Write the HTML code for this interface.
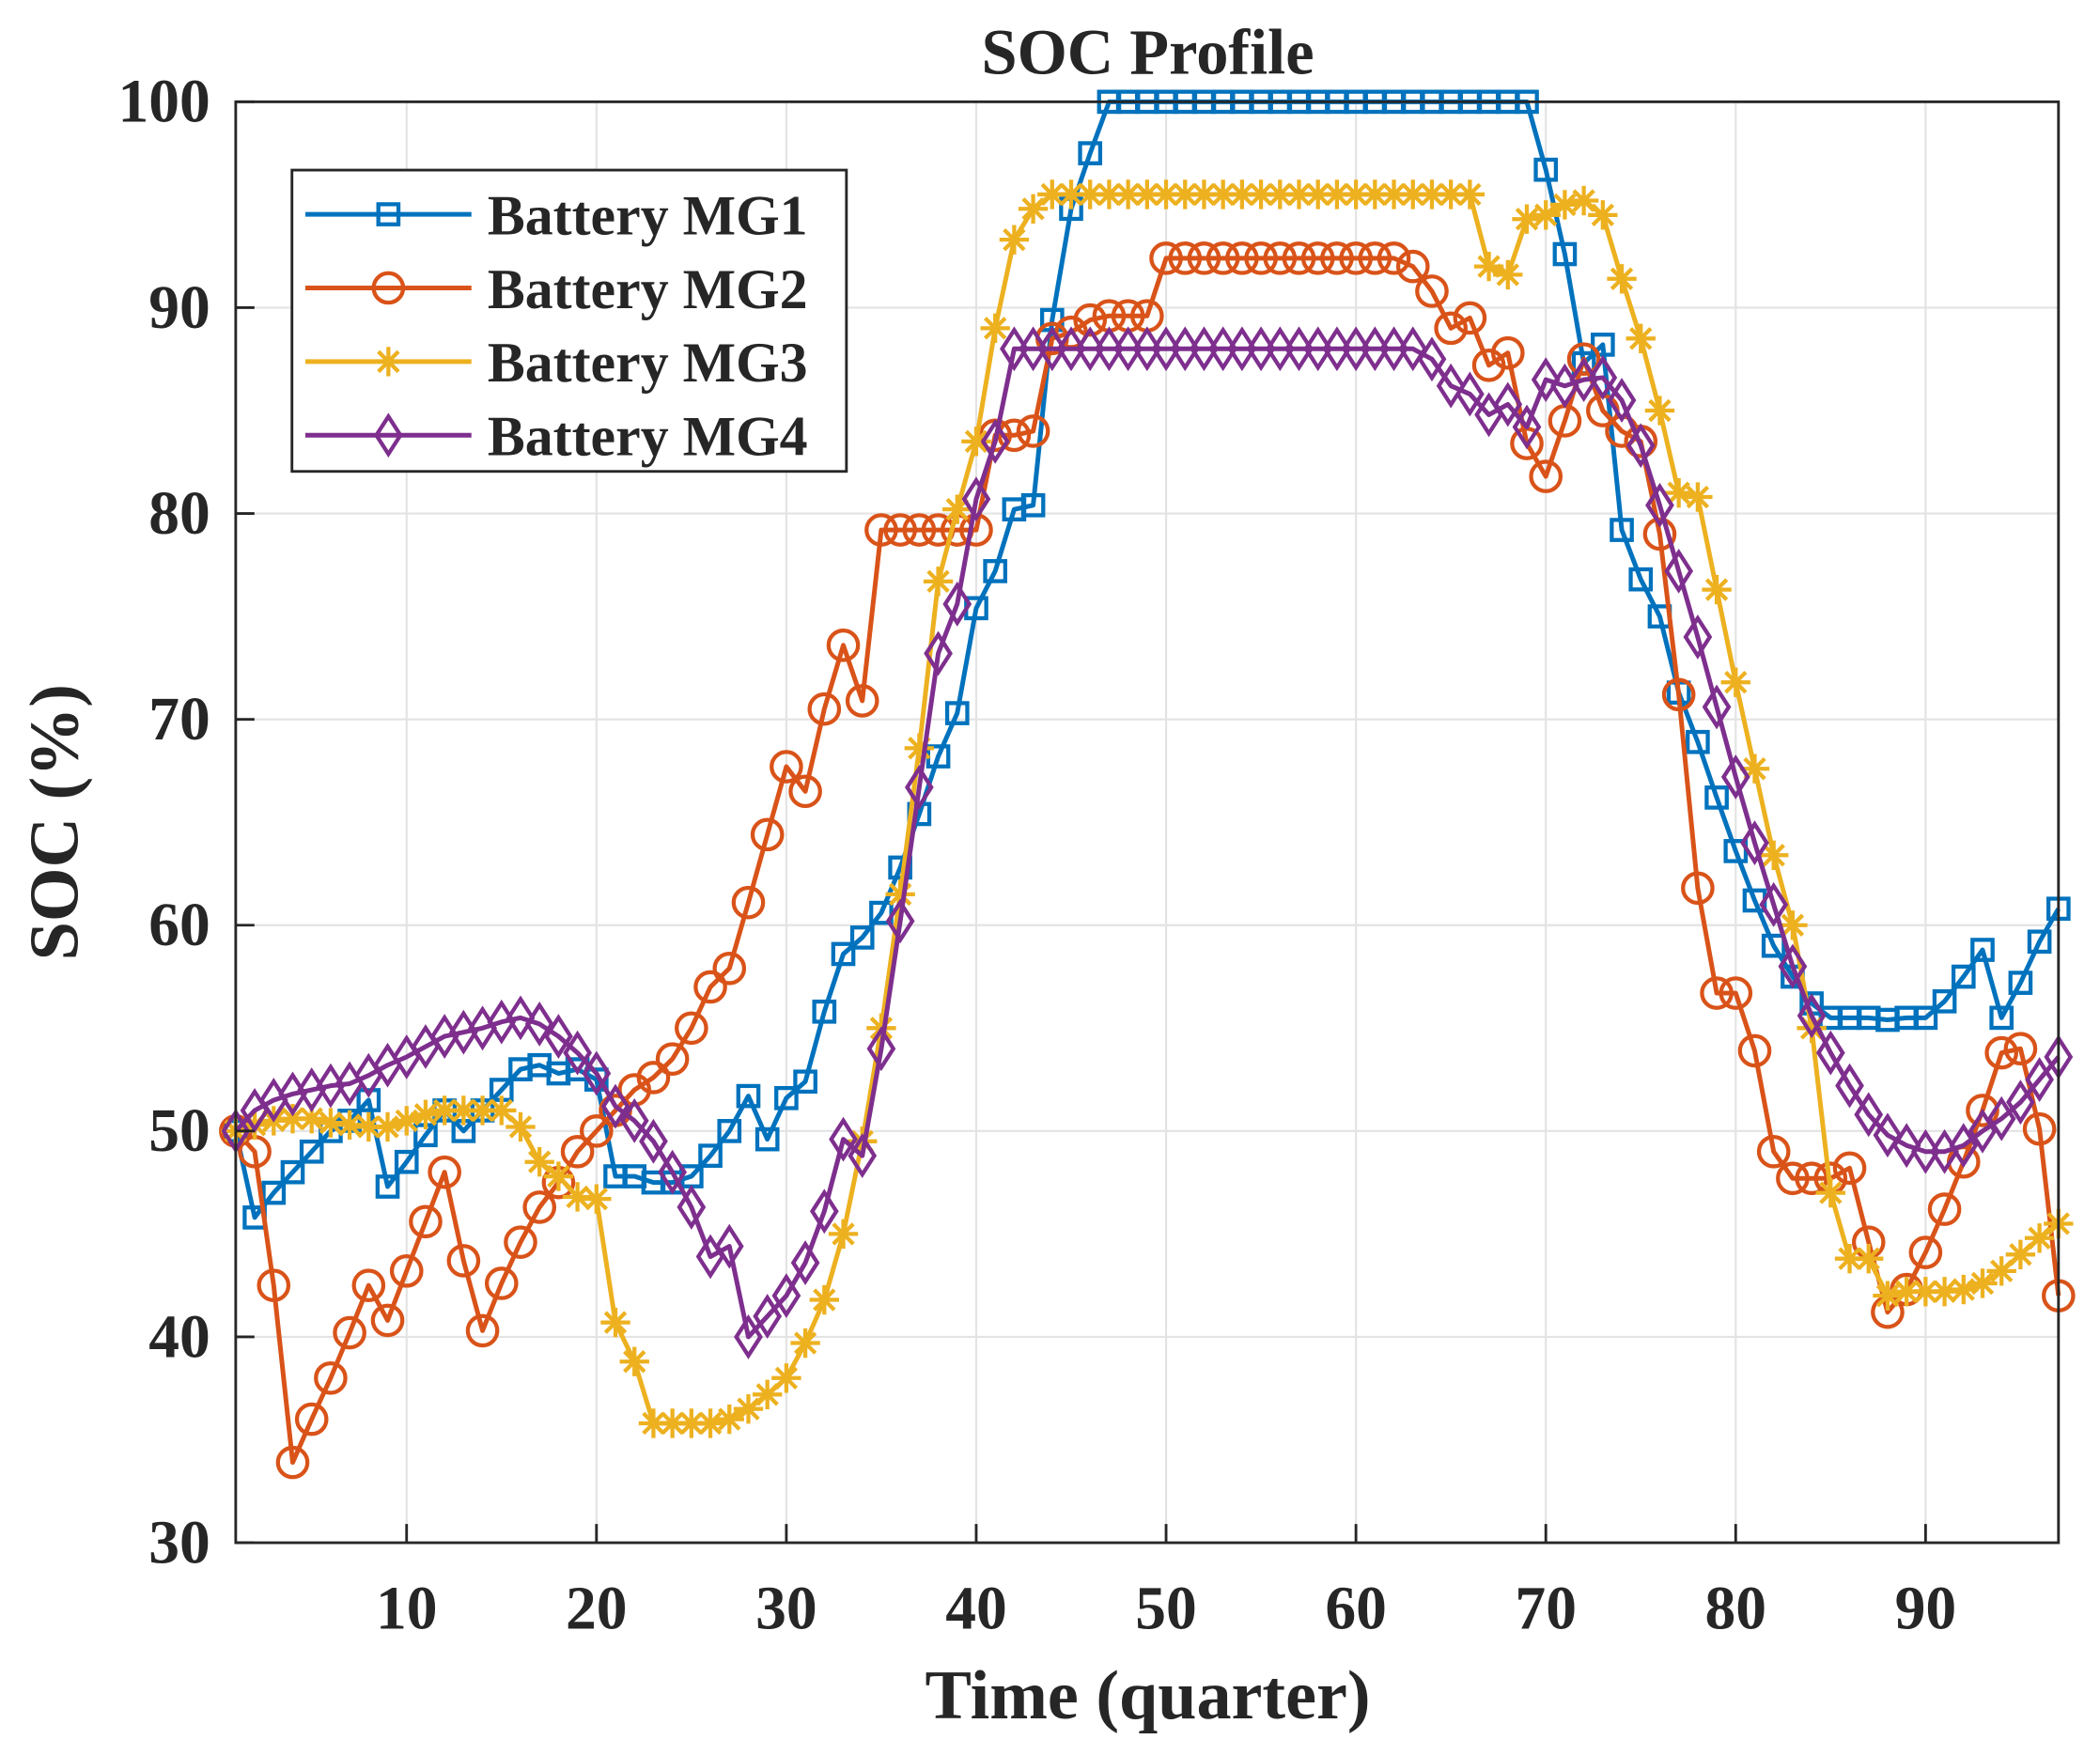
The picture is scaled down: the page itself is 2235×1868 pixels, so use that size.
<!DOCTYPE html>
<html><head><meta charset="utf-8"><style>
html,body{margin:0;padding:0;background:#fff;}
svg{display:block;}
text{font-family:"Liberation Serif",serif;font-weight:bold;fill:#262626;}
</style></head><body>
<svg id="chart" width="2235" height="1868" viewBox="0 0 1568 1310.5" xmlns="http://www.w3.org/2000/svg">
<rect width="1568" height="1310.5" fill="#fff"/>
<g id="grid"></g>
<g id="series"></g>
<rect x="176" y="76" width="1361" height="1076" fill="none" stroke="#262626" stroke-width="2"/>
<g id="ticks"></g>
<text x="857" y="55" text-anchor="middle" font-size="48">SOC Profile</text>
<text x="857" y="1283" text-anchor="middle" font-size="52">Time (quarter)</text>
<text transform="translate(58,614) rotate(-90)" text-anchor="middle" font-size="52">SOC (%)</text>
<g id="legend">
<rect x="218" y="127" width="414" height="225" fill="#fff" stroke="#262626" stroke-width="2"/>
</g>
</svg>
<script>
const xTicks=[10,20,30,40,50,60,70,80,90];
const yTicks=[30,40,50,60,70,80,90,100];
const seriesNames=["Battery MG1","Battery MG2","Battery MG3","Battery MG4"];
const mg1=[50,45.8,47,48,49,50,50.5,51.5,47.3,48.5,49.8,51,50,51,52,53,53.2,52.8,53,52.5,47.8,47.8,47.5,47.5,47.8,48.8,50,51.7,49.6,51.6,52.4,55.8,58.6,59.4,60.6,62.8,65.4,68.2,70.3,75.4,77.2,80.2,80.4,89.4,94.8,97.5,100,100,100,100,100,100,100,100,100,100,100,100,100,100,100,100,100,100,100,100,100,100,100,96.7,92.6,87.3,88.2,79.2,76.8,75,71.3,68.9,66.2,63.6,61.2,59,57.5,56.2,55.5,55.5,55.5,55.4,55.5,55.5,56.3,57.5,58.8,55.5,57.2,59.2,60.8];
const mg2=[50,49,42.5,33.9,36,38,40.2,42.5,40.8,43.2,45.6,48,43.7,40.3,42.6,44.6,46.3,47.5,49,50,51,52,52.6,53.5,55,57,57.9,61.1,64.4,67.7,66.5,70.5,73.6,70.9,79.2,79.2,79.2,79.2,79.2,79.2,83.8,83.8,84,88.5,88.8,89.4,89.6,89.6,89.6,92.4,92.4,92.4,92.4,92.4,92.4,92.4,92.4,92.4,92.4,92.4,92.4,92.4,92,90.8,89,89.5,87.2,87.8,83.4,81.8,84.5,87.5,85,84,83.5,79,71.2,61.8,56.7,56.7,53.9,49,47.7,47.7,47.7,48.2,44.6,41.2,42.3,44.1,46.2,48.5,51,53.8,54,50.1,42];
const mg3=[50,50.3,50.5,50.6,50.6,50.4,50.3,50.2,50.2,50.5,50.8,51,51,51,51,50.2,48.5,47.8,46.8,46.7,40.7,38.8,35.8,35.8,35.8,35.8,36,36.5,37.2,38,39.7,41.8,45,49.5,55,61.5,68.6,76.7,80.2,83.5,89,93.3,94.8,95.5,95.5,95.5,95.5,95.5,95.5,95.5,95.5,95.5,95.5,95.5,95.5,95.5,95.5,95.5,95.5,95.5,95.5,95.5,95.5,95.5,95.5,95.5,92,91.6,94.3,94.5,95,95.2,94.5,91.4,88.5,85,81,80.8,76.3,71.8,67.6,63.4,60,55,47,43.8,43.8,42,42.2,42.2,42.2,42.3,42.6,43.2,44,44.8,45.5];
const mg4=[50,51,51.5,51.8,52,52.2,52.3,52.7,53.2,53.6,54.1,54.6,54.8,55,55.3,55.5,55.2,54.6,53.8,52.8,51.2,50.5,49.5,48,46.3,43.9,44.4,40,41,42,43.6,46.1,49.6,48.8,54,60.2,66.7,73.2,75.6,80.7,83.5,88,88,88,88,88,88,88,88,88,88,88,88,88,88,88,88,88,88,88,88,88,88,87.5,86.2,85.8,84.8,85.3,84.2,86.5,86.2,86.5,86.6,85.5,83.3,80.4,77.2,74,70.6,67.2,64,61,58,55.6,53.8,52.2,50.8,49.8,49.3,49,49,49.3,50,50.6,51.4,52.5,53.6];
const allSeries=[mg1,mg2,mg3,mg4];
const colors=["#0072BD","#D95319","#EDB120","#7E2F8E"];
const markers=["square","circle","star","diamond"];
const X0=176,X1=1537,Y0=1152,Y1=76,XMIN=1,XMAX=97,YMIN=30,YMAX=100;
function sx(v){return X0+(v-XMIN)/(XMAX-XMIN)*(X1-X0);}
function sy(v){return Y0-(v-YMIN)/(YMAX-YMIN)*(Y0-Y1);}
const NS="http://www.w3.org/2000/svg";
function mk(tag,attrs,parent){const e=document.createElementNS(NS,tag);for(const k in attrs)e.setAttribute(k,attrs[k]);parent.appendChild(e);return e;}
const grid=document.getElementById('grid'),ticks=document.getElementById('ticks');
xTicks.forEach(t=>{
  const g=mk('line',{x1:sx(t),x2:sx(t),y1:Y1,y2:Y0,stroke:'#e3e3e3','stroke-width':1.5},grid);
  
  
  const tk=mk('line',{x1:sx(t),x2:sx(t),y1:Y0,y2:Y0-14,stroke:'#262626','stroke-width':2},ticks);
  
  
  const lb=mk('text',{x:sx(t),y:1216,'text-anchor':'middle','font-size':46},ticks);
  lb.textContent=t;
  
  
});
yTicks.forEach(t=>{
  const g=mk('line',{x1:X0,x2:X1,y1:sy(t),y2:sy(t),stroke:'#e3e3e3','stroke-width':1.5},grid);
  
  
  const tk=mk('line',{x1:X0,x2:X0+14,y1:sy(t),y2:sy(t),stroke:'#262626','stroke-width':2},ticks);
  
  
  const lb=mk('text',{x:157,y:sy(t)+15,'text-anchor':'end','font-size':46},ticks);
  lb.textContent=t;
  
  
});
function drawMarker(type,x,y,color,parent){
  let e;
  if(type==='square'){e=mk('rect',{x:x-7.5,y:y-7.5,width:15,height:15,fill:'none',stroke:color,'stroke-width':3},parent);}
  else if(type==='circle'){e=mk('circle',{cx:x,cy:y,r:11,fill:'none',stroke:color,'stroke-width':3},parent);}
  else if(type==='diamond'){e=mk('polygon',{points:`${x},${y-14} ${x+9},${y} ${x},${y+14} ${x-9},${y}`,fill:'none',stroke:color,'stroke-width':3},parent);}
  else {const r=11,d=7.5;e=mk('path',{d:`M${x-r},${y}H${x+r}M${x},${y-r}V${y+r}M${x-d},${y-d}L${x+d},${y+d}M${x-d},${y+d}L${x+d},${y-d}`,stroke:color,'stroke-width':3,fill:'none'},parent);}
  return e;
}
const sg=document.getElementById('series');
allSeries.forEach((data,i)=>{
  const g=mk('g',{},sg);
  
  
  const pts=data.map((v,j)=>sx(j+1)+','+sy(v)).join(' ');
  const pl=mk('polyline',{points:pts,fill:'none',stroke:colors[i],'stroke-width':3.5,'stroke-linejoin':'round'},g);
  
  
  data.forEach((v,j)=>{
    const m=drawMarker(markers[i],sx(j+1),sy(v),colors[i],g);
    
    
  });
});
const lg=document.getElementById('legend');
const legendY=[160,215,270,325];
seriesNames.forEach((n,i)=>{
  const g=mk('g',{},lg);
  
  
  mk('line',{x1:228,x2:352,y1:legendY[i],y2:legendY[i],stroke:colors[i],'stroke-width':3.5},g);
  drawMarker(markers[i],290,legendY[i],colors[i],g);
  const t=mk('text',{x:364,y:legendY[i]+15,'font-size':42},g);
  t.textContent=n;
});
</script>
</body></html>
